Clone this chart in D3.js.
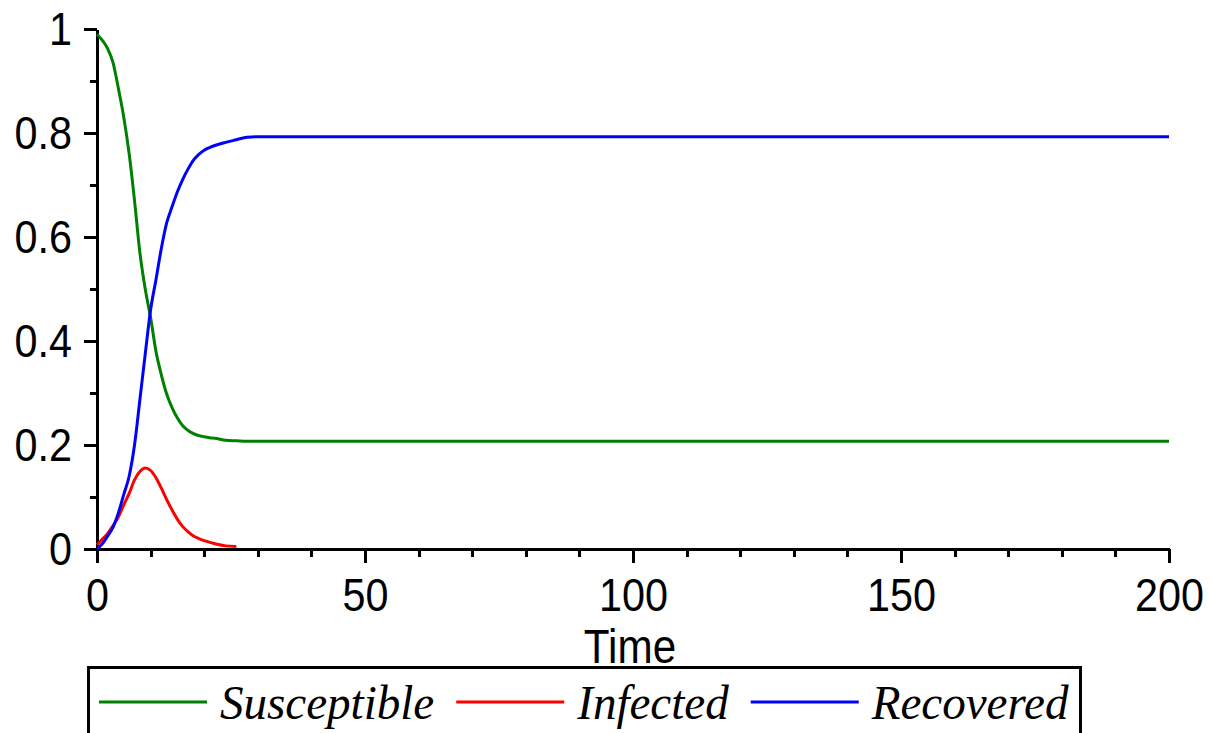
<!DOCTYPE html>
<html>
<head>
<meta charset="utf-8">
<script src="https://cdn.jsdelivr.net/npm/d3@7"></script>
<style>
  body { margin: 0; background: #fff; }
  svg { display: block; }
</style>
</head>
<body>
<div class="drawingboard"></div>
<script>
// values (fractions of the population)
var timeSR = [0, 1, 2, 3, 4, 5, 6, 7, 8, 9, 10, 11, 12, 13, 14, 15, 16, 17, 18, 19, 20, 21, 22, 24, 26, 28, 30, 50, 100, 150, 200];
var susceptible = [0.99, 0.978, 0.962, 0.935, 0.885, 0.83, 0.76, 0.67, 0.57, 0.50, 0.445, 0.38, 0.335, 0.298, 0.272, 0.252, 0.237, 0.228, 0.222, 0.218, 0.216, 0.214, 0.213, 0.209, 0.208, 0.207, 0.207, 0.207, 0.207, 0.207, 0.207];
var recovered = [0, 0.01, 0.025, 0.042, 0.07, 0.105, 0.14, 0.20, 0.287, 0.375, 0.46, 0.518, 0.578, 0.627, 0.658, 0.687, 0.711, 0.731, 0.748, 0.759, 0.767, 0.772, 0.776, 0.782, 0.787, 0.792, 0.793, 0.793, 0.793, 0.793, 0.793];

var timeI = [0, 1, 2, 3, 4, 5, 6, 7, 8, 9, 10, 11, 12, 13, 14, 15, 16, 17, 18, 19, 20, 22, 24, 26];
var infected = [0.008, 0.019, 0.03, 0.045, 0.062, 0.085, 0.107, 0.133, 0.149, 0.156, 0.151, 0.137, 0.117, 0.095, 0.075, 0.057, 0.043, 0.033, 0.025, 0.02, 0.016, 0.01, 0.006, 0.005];

var xMajorTicks = [0, 50, 100, 150, 200];
var yMajorTicks = [0, 0.2, 0.4, 0.6, 0.8, 1];
var yTickLabels = ["0", "0.2", "0.4", "0.6", "0.8", "1"];

var seriesNames = ["Susceptible", "Infected", "Recovered"];
var seriesColors = ["#008000", "#ff0000", "#0000ff"];

var width = 1212;
var height = 733;

var svg = d3.select(".drawingboard")
    .append("svg")
    .attr("width", width)
    .attr("height", height);

var x = d3.scaleLinear().domain([0, 200]).range([97, 1169]);
var y = d3.scaleLinear().domain([0, 1]).range([549, 29]);

var tickFont = "Liberation Sans, Arial, sans-serif";

// squeeze a text a little, the original glyphs are narrow
// returns the new width of the last text
function narrow(sel, k) {
    var out = 0;
    sel.each(function () {
        var w = this.getComputedTextLength() * k;
        d3.select(this)
            .attr("textLength", w)
            .attr("lengthAdjust", "spacingAndGlyphs");
        out = w;
    });
    return out;
}

// minor ticks first
svg.append("g")
    .attr("transform", "translate(0," + y(0) + ")")
    .call(d3.axisBottom(x).tickValues(d3.range(0, 201, 10)).tickSize(8).tickFormat(""))
    .call(function (g) { g.select(".domain").remove(); });

svg.append("g")
    .attr("transform", "translate(" + x(0) + ",0)")
    .call(d3.axisLeft(y).tickValues(d3.range(0, 1.01, 0.1)).tickSize(7).tickFormat(""))
    .call(function (g) { g.select(".domain").remove(); });

// major ticks + labels
var xAxis = svg.append("g")
    .attr("transform", "translate(0," + y(0) + ")")
    .call(d3.axisBottom(x).tickValues(xMajorTicks).tickSize(14).tickSizeOuter(0).tickPadding(15).tickFormat(d3.format("d")));

var yAxis = svg.append("g")
    .attr("transform", "translate(" + x(0) + ",0)")
    .call(d3.axisLeft(y).tickValues(yMajorTicks).tickSize(13).tickSizeOuter(0).tickPadding(12)
        .tickFormat(function (d, i) { return yTickLabels[i]; }));

svg.selectAll(".tick line, .domain")
    .attr("stroke", "#000")
    .attr("stroke-width", 3)
    .attr("shape-rendering", "crispEdges");

svg.selectAll(".tick text")
    .attr("fill", "#000")
    .style("font-family", tickFont)
    .style("font-size", "47px");

narrow(xAxis.selectAll(".tick text"), 0.88);
narrow(yAxis.selectAll(".tick text"), 0.88);

var timeLabel = svg.append("text")
    .attr("x", (x(0) + x(200)) / 2 - 3)
    .attr("y", 663)
    .attr("text-anchor", "middle")
    .style("font-family", tickFont)
    .style("font-size", "48px")
    .text("Time");
narrow(timeLabel, 0.88);

// curves
var lineSR = function (vals) {
    return d3.line()
        .x(function (d, i) { return x(timeSR[i]); })
        .y(function (d) { return y(d); })
        .curve(d3.curveMonotoneX)(vals);
};

var lineI = d3.line()
    .x(function (d, i) { return x(timeI[i]); })
    .y(function (d) { return y(d); })
    .curve(d3.curveMonotoneX);

var plot = svg.append("g").attr("fill", "none").attr("stroke-width", 3);

plot.append("path").attr("d", lineSR(susceptible)).attr("stroke", seriesColors[0]);
plot.append("path").attr("d", lineI(infected)).attr("stroke", seriesColors[1]);
plot.append("path").attr("d", lineSR(recovered)).attr("stroke", seriesColors[2]);

// legend
var legend = svg.append("g");
var legendY = 702;
var cursor = 99;
seriesNames.forEach(function (name, i) {
    legend.append("line")
        .attr("x1", cursor).attr("x2", cursor + 108)
        .attr("y1", legendY).attr("y2", legendY)
        .attr("stroke", seriesColors[i])
        .attr("stroke-width", 3);
    var t = legend.append("text")
        .attr("x", cursor + 121)
        .attr("y", 719)
        .style("font-family", "Liberation Serif, Times New Roman, serif")
        .style("font-style", "italic")
        .style("font-size", "48px")
        .text(name);
    var w = narrow(t, 0.98);
    cursor = cursor + 121 + w + 22;
});

var boxRight = cursor - 22 + 12;
legend.append("path")
    .attr("d", "M88,745V667H" + boxRight + "V745")
    .attr("fill", "none")
    .attr("stroke", "#000")
    .attr("stroke-width", 3)
    .attr("shape-rendering", "crispEdges");
</script>
</body>
</html>
